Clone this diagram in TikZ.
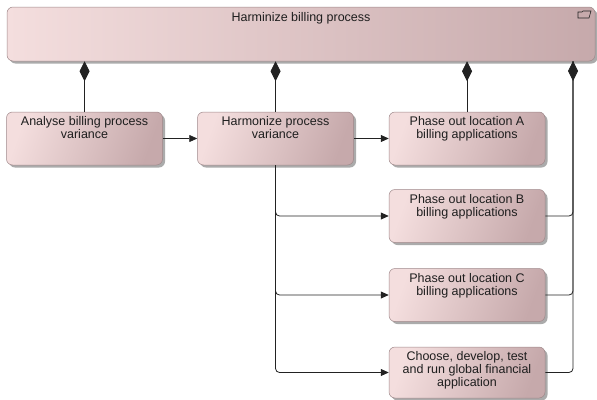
\documentclass[tikz,border=0pt]{standalone}
\usepackage{fontspec}
\setmainfont{Liberation Sans}
\usetikzlibrary{arrows.meta,shadows,calc}
\definecolor{boxlight}{HTML}{F4DEDE}
\definecolor{boxdark}{HTML}{C6A9AB}
\definecolor{linec}{HTML}{222222}
\definecolor{txt}{HTML}{1E1E1E}
\tikzset{
  proc/.style={draw=boxdark!80!black, line width=0.5pt, rounded corners=6pt,
    left color=boxlight, right color=boxdark, shading angle=70,
    drop shadow={shadow xshift=2.5pt, shadow yshift=-2.5pt, fill=black!60, opacity=0.55},
    minimum width=156pt, minimum height=53pt, inner sep=0pt},
  boxtxt/.style={anchor=north, yshift=-4.5pt, align=center, font=\fontsize{12.5}{13}\selectfont, text=txt, inner sep=0pt},
  arr/.style={draw=linec, line width=0.8pt, -{Triangle[length=8pt,width=7pt]}},
  comp/.style={draw=linec, line width=0.8pt, -{Diamond[length=20pt,width=10pt]}},
  plain/.style={draw=linec, line width=0.8pt},
}
\begin{document}
\begin{tikzpicture}[x=1pt,y=-1pt]
\useasboundingbox (0,0) rectangle (597,399);
\node[proc, minimum width=588pt, minimum height=54pt, left color=boxlight, right color=boxdark, shading angle=90,
  label={[boxtxt, yshift=-1pt]north:Harminize billing process}] (T) at (301,34) {};
\draw[linec, line width=0.6pt] (578,12) -- (582,12) -- (583,11) -- (591,11) -- (589,18) -- (578,18) -- cycle;
\node[proc, label={[boxtxt]north:Analyse billing process\\variance}] (An) at (84.5,138.5) {};
\node[proc, label={[boxtxt]north:Harmonize process\\variance}] (H) at (275.5,138.5) {};
\node[proc, label={[boxtxt]north:Phase out location A\\billing applications}] (A) at (467,138.5) {};
\node[proc, label={[boxtxt]north:Phase out location B\\billing applications}] (B) at (467,216) {};
\node[proc, label={[boxtxt]north:Phase out location C\\billing applications}] (C) at (467,295) {};
\node[proc, minimum height=51pt, label={[boxtxt]north:Choose, develop, test\\and run global financial\\application}] (D) at (467,372.5) {};
\coordinate (rt) at (573,61);
% composition links
\draw[comp] (An.north) -- (An.north |- T.south);
\draw[comp] (H.north) -- (H.north |- T.south);
\draw[comp] (A.north) -- (A.north |- T.south);
\draw[plain, rounded corners=4pt] (D.east) -| (rt);
\draw[plain, rounded corners=4pt] (C.east) -| (rt);
\draw[comp, rounded corners=4pt] (B.east) -| (rt);
% triggering / flow
\draw[arr] (An.east) -- (H.west);
\draw[arr] (H.east) -- (A.west);
\draw[arr, rounded corners=4pt] (H.south) |- (B.west);
\draw[arr, rounded corners=4pt] (H.south) |- (C.west);
\draw[arr, rounded corners=4pt] (H.south) |- (D.west);
\end{tikzpicture}
\end{document}
